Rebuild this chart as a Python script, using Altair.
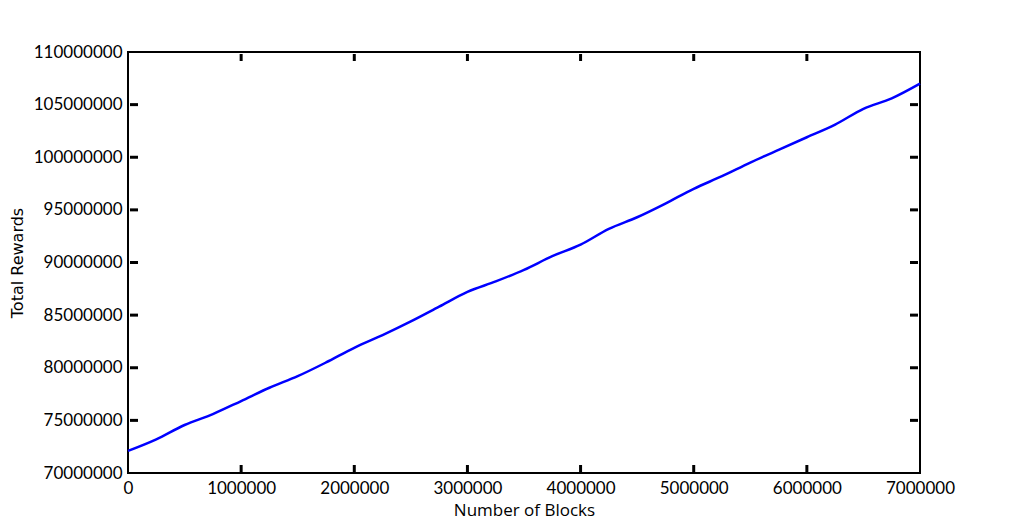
import altair as alt
import pandas as pd

blocks = [0, 250000, 500000, 750000, 1000000, 1250000, 1500000, 1750000, 2000000,
          2250000, 2500000, 2750000, 3000000, 3250000, 3500000, 3750000, 4000000,
          4250000, 4500000, 4750000, 5000000, 5250000, 5500000, 5750000, 6000000,
          6250000, 6500000, 6750000, 7000000]
rewards = [72100000, 73200000, 74560000, 75600000, 76840000, 78100000, 79200000, 80500000,
           81900000, 83100000, 84400000, 85800000, 87200000, 88200000, 89300000, 90600000,
           91700000, 93200000, 94300000, 95600000, 97000000, 98200000, 99500000, 100700000,
           101900000, 103100000, 104600000, 105600000, 107000000]

x_ticks = [0, 1000000, 2000000, 3000000, 4000000, 5000000, 6000000, 7000000]
y_ticks = [70000000, 75000000, 80000000, 85000000, 90000000, 95000000, 100000000,
           105000000, 110000000]

W, H = 792, 421

df = pd.DataFrame({"blocks": blocks, "rewards": rewards})
xt = pd.DataFrame({"v": x_ticks[1:-1]})
yt = pd.DataFrame({"v": y_ticks[1:-1]})

xscale = alt.Scale(domain=[0, 7000000], nice=False, zero=False)
yscale = alt.Scale(domain=[70000000, 110000000], nice=False, zero=False)

line = alt.Chart(df).mark_line(color="#0000ff", strokeWidth=2.5, interpolate="monotone").encode(
    x=alt.X("blocks:Q", scale=xscale,
            axis=alt.Axis(values=x_ticks, format="d", title="Number of Blocks",
                          tickSize=0, domain=False, grid=False, labelPadding=7,
                          labelFont="Lato", labelFontSize=17, labelColor="#000",
                          titleFont="Open Sans", titleFontSize=17,
                          titleFontWeight="normal", titleColor="#000",
                          titleBaseline="alphabetic", titleY=42,
                          labelFlush=False)),
    y=alt.Y("rewards:Q", scale=yscale,
            axis=alt.Axis(values=y_ticks, format="d", title="Total Rewards",
                          tickSize=0, domain=False, grid=False, labelPadding=6,
                          labelFont="Lato", labelFontSize=17, labelColor="#000",
                          titleFont="DejaVu Sans", titleFontSize=16,
                          titleFontWeight="normal", titleColor="#000", titlePadding=8,
                          labelFlush=False)),
)

tick_len = 7
bottom = alt.Chart(xt).mark_rule(color="#000", strokeWidth=3).encode(
    x=alt.X("v:Q", scale=xscale), y=alt.value(H - 1), y2=alt.value(H - 1 - tick_len))
top = alt.Chart(xt).mark_rule(color="#000", strokeWidth=3).encode(
    x=alt.X("v:Q", scale=xscale), y=alt.value(2), y2=alt.value(2 + tick_len))
left = alt.Chart(yt).mark_rule(color="#000", strokeWidth=3).encode(
    y=alt.Y("v:Q", scale=yscale), x=alt.value(2), x2=alt.value(2 + tick_len + 1))
right = alt.Chart(yt).mark_rule(color="#000", strokeWidth=3).encode(
    y=alt.Y("v:Q", scale=yscale), x=alt.value(W - 2), x2=alt.value(W - 3 - tick_len))

chart = alt.layer(line, bottom, top, left, right).properties(
    width=W, height=H,
    autosize=alt.AutoSizeParams(type="none"),
    padding={"left": 120, "top": 44, "right": 96, "bottom": 46},
).configure(background="white").configure_view(stroke="#000", strokeWidth=2)

chart.save("out.html", embed_options={"renderer": "svg", "actions": False})
